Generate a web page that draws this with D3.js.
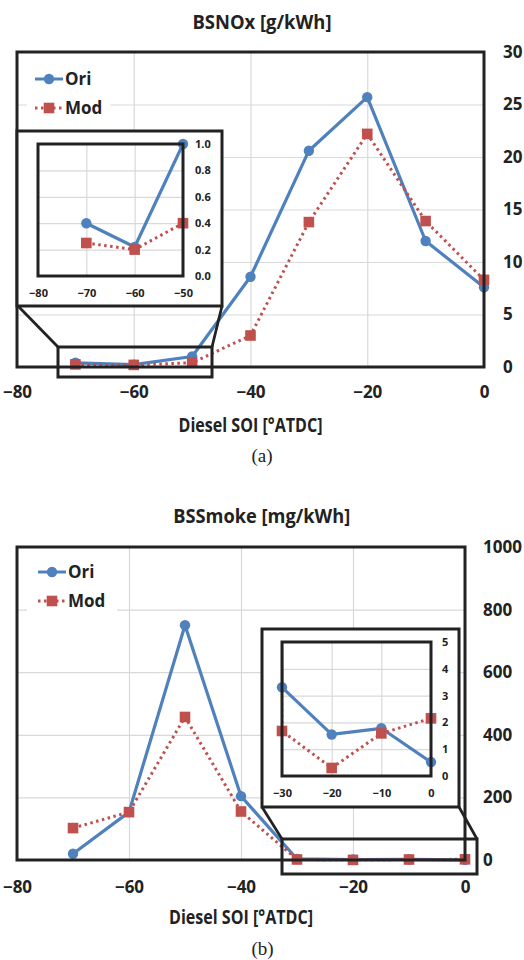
<!DOCTYPE html>
<html>
<head>
<meta charset="utf-8">
<script src="https://cdn.jsdelivr.net/npm/d3@7"></script>
<style>
  body { margin: 0; background: #fff; }
  text { font-family: "Open Sans", "Noto Sans", sans-serif; font-weight: bold; fill: #222; }
</style>
</head>
<body>
<svg id="chart" width="524" height="960"></svg>
<script>
// data
var soi = [-70, -60, -50, -40, -30, -20, -10, 0];
var noxOri = [0.4, 0.22, 1.0, 8.6, 20.6, 25.7, 12.0, 7.6];
var noxMod = [0.25, 0.2, 0.4, 3.0, 13.8, 22.2, 13.9, 8.3];
var smokeOri = [20, 153, 750, 204, 3.31, 1.55, 1.78, 0.52];
var smokeMod = [102, 153, 457, 155, 1.68, 0.3, 1.59, 2.15];

var xTicks = [-80, -60, -40, -20, 0];
var noxTicks = [0, 5, 10, 15, 20, 25, 30];
var smokeTicks = [0, 200, 400, 600, 800, 1000];
var noxInsetXTicks = [-80, -70, -60, -50];
var noxInsetYTicks = [0, 0.2, 0.4, 0.6, 0.8, 1.0];
var smokeInsetXTicks = [-30, -20, -10, 0];
var smokeInsetYTicks = [0, 1, 2, 3, 4, 5];

var seriesNames = ["Ori", "Mod"];
var blue = "#4f81bd", red = "#c0504d", frameCol = "#222";

var svg = d3.select("#chart");
var clipId = 0;

function drawSeries(g, x, y, ori, mod, clip) {
  var line = d3.line().x(function(d) { return x(d[0]); }).y(function(d) { return y(d[1]); });
  var gg = g.append("g");
  if (clip) {
    var id = "clip" + (clipId++);
    g.append("clipPath").attr("id", id).append("rect")
      .attr("x", x.range()[0]).attr("y", y.range()[1])
      .attr("width", x.range()[1] - x.range()[0]).attr("height", y.range()[0] - y.range()[1]);
    gg.attr("clip-path", "url(#" + id + ")");
  }
  var dOri = d3.zip(soi, ori), dMod = d3.zip(soi, mod);
  gg.append("path").datum(dOri).attr("d", line)
    .style("fill", "none").style("stroke", blue).style("stroke-width", 3.2).style("stroke-linejoin", "round");
  gg.append("path").datum(dMod).attr("d", line)
    .style("fill", "none").style("stroke", red).style("stroke-width", 3).style("stroke-dasharray", "2.5,3.5");

  var pts = g.append("g");
  var inDom = function(d) { return d[0] >= x.domain()[0] && d[0] <= x.domain()[1] && d[1] <= y.domain()[1]; };
  pts.selectAll("circle").data(dOri.filter(inDom)).enter().append("circle")
    .attr("cx", function(d) { return x(d[0]); }).attr("cy", function(d) { return y(d[1]); })
    .attr("r", 5.2).style("fill", blue);
  pts.selectAll("rect").data(dMod.filter(inDom)).enter().append("rect")
    .attr("x", function(d) { return x(d[0]) - 5.3; }).attr("y", function(d) { return y(d[1]) - 5.3; })
    .attr("width", 10.6).attr("height", 10.6).style("fill", red);
}

function drawGrid(g, x, y, xt, yt) {
  g.append("g").attr("transform", "translate(0," + y.range()[0] + ")")
    .call(d3.axisBottom(x).tickValues(xt).tickSize(y.range()[1] - y.range()[0]).tickFormat(""))
    .call(function(a) { a.select(".domain").remove(); a.selectAll("line").style("stroke", "#d9d9d9").style("stroke-width", 1.2); });
  g.append("g").attr("transform", "translate(" + x.range()[0] + ",0)")
    .call(d3.axisRight(y).tickValues(yt).tickSize(x.range()[1] - x.range()[0]).tickFormat(""))
    .call(function(a) { a.select(".domain").remove(); a.selectAll("line").style("stroke", "#d9d9d9").style("stroke-width", 1.2); });
}

function drawLabels(g, x, y, xt, yt, fs, xPad, yPad, yFmt) {
  g.append("g").attr("transform", "translate(0," + y.range()[0] + ")")
    .call(d3.axisBottom(x).tickValues(xt).tickSize(0).tickPadding(xPad))
    .call(function(a) { a.select(".domain").remove(); a.selectAll("text").style("font-size", fs + "px").attr("fill", null); });
  g.append("g").attr("transform", "translate(" + x.range()[1] + ",0)")
    .call(d3.axisRight(y).tickValues(yt).tickSize(0).tickPadding(yPad).tickFormat(yFmt || d3.format("d")))
    .call(function(a) { a.select(".domain").remove(); a.selectAll("text").style("font-size", fs + "px").attr("fill", null); });
}

function frame(g, x0, y0, x1, y1, w) {
  g.append("rect").attr("x", x0).attr("y", y0).attr("width", x1 - x0).attr("height", y1 - y0)
    .style("fill", "none").style("stroke", frameCol).style("stroke-width", w);
}

// tall, narrow text like the Calibri in the picture
function narrowText(g, x, y, fs, len, str) {
  return g.append("text").attr("x", x).attr("y", y).attr("text-anchor", "middle")
    .style("font-size", fs + "px").attr("textLength", len).attr("lengthAdjust", "spacingAndGlyphs").text(str);
}

function panel(p) {
  var g = svg.append("g");
  var x = d3.scaleLinear().domain([-80, 0]).range([p.x0, p.x1]);
  var y = d3.scaleLinear().domain([0, p.yMax]).range([p.y1, p.y0]);

  narrowText(g, p.titleX, p.titleY, 19.5, p.titleLen, p.title);

  drawGrid(g, x, y, xTicks, p.yTicks);
  drawLabels(g, x, y, xTicks, p.yTicks, 17, p.xPad, p.yPad);

  // legend
  var lg = g.append("g");
  lg.append("rect").attr("x", p.x0 + 10).attr("y", p.y0 + 2).attr("width", p.legW).attr("height", p.legH).style("fill", "#fff");
  seriesNames.forEach(function(name, i) {
    var ly = p.legY + i * 29;
    lg.append("line").attr("x1", p.legX).attr("x2", p.legX + 28).attr("y1", ly).attr("y2", ly)
      .style("stroke", i ? red : blue).style("stroke-width", 3).style("stroke-dasharray", i ? "2.5,3.5" : null);
    if (i) lg.append("rect").attr("x", p.legX + 14 - 5.3).attr("y", ly - 5.3).attr("width", 10.6).attr("height", 10.6).style("fill", red);
    else lg.append("circle").attr("cx", p.legX + 14).attr("cy", ly).attr("r", 5.2).style("fill", blue);
    lg.append("text").attr("x", p.legX + 30).attr("y", ly + 6).style("font-size", "17px").text(name);
  });

  drawSeries(g, x, y, p.ori, p.mod, false);
  frame(g, p.x0, p.y0, p.x1, p.y1, 3);

  narrowText(g, p.axisTitleX, p.axisTitleY, 19.5, 144, "Diesel SOI [°ATDC]");
  g.append("text").attr("x", p.capX).attr("y", p.capY).attr("text-anchor", "middle")
    .style("font-family", "'Liberation Serif', 'DejaVu Serif', serif").style("font-weight", "normal")
    .style("font-size", "19px").text(p.caption);

  // zoom box + connectors
  var ins = p.inset;
  g.append("rect").attr("x", ins.zx).attr("y", ins.zy).attr("width", ins.zw).attr("height", ins.zh)
    .style("fill", "none").style("stroke", frameCol).style("stroke-width", 3);
  ins.links.forEach(function(l) {
    g.append("line").attr("x1", l[0]).attr("y1", l[1]).attr("x2", l[2]).attr("y2", l[3])
      .style("stroke", frameCol).style("stroke-width", 2.8);
  });

  // inset
  var ig = g.append("g");
  ig.append("rect").attr("x", ins.ox).attr("y", ins.oy).attr("width", ins.ow).attr("height", ins.oh)
    .style("fill", "#fff").style("stroke", frameCol).style("stroke-width", 3);
  var ix = d3.scaleLinear().domain(ins.xDom).range([ins.x0, ins.x1]);
  var iy = d3.scaleLinear().domain(ins.yDom).range([ins.y1, ins.y0]);
  drawGrid(ig, ix, iy, ins.xTicks, ins.yTicks);
  drawLabels(ig, ix, iy, ins.xTicks, ins.yTicks, 11, ins.xPad, ins.yPad, ins.yFmt);
  drawSeries(ig, ix, iy, p.ori, p.mod, true);
  frame(ig, ins.x0, ins.y0, ins.x1, ins.y1, 3);
}

panel({
  title: "BSNOx [g/kWh]", titleX: 262, titleY: 29, titleLen: 139,
  x0: 17, x1: 484, y0: 52, y1: 367, yMax: 30, yTicks: noxTicks,
  xPad: 18.5, yPad: 19,
  legX: 35, legY: 79, legW: 83, legH: 77,
  ori: noxOri, mod: noxMod,
  axisTitleX: 250.5, axisTitleY: 432, capX: 262, capY: 462, caption: "(a)",
  inset: {
    ox: 17, oy: 131, ow: 205, oh: 175,
    x0: 38, x1: 183, y0: 144, y1: 276,
    xDom: [-80, -50], yDom: [0, 1], xTicks: noxInsetXTicks, yTicks: noxInsetYTicks,
    xPad: 13, yPad: 12, yFmt: d3.format(".1f"),
    zx: 58, zy: 347, zw: 154, zh: 30,
    links: [[18, 306, 58, 347], [222, 306, 212, 347]]
  }
});

panel({
  title: "BSSmoke [mg/kWh]", titleX: 261.7, titleY: 523, titleLen: 177,
  x0: 17, x1: 465, y0: 547, y1: 860, yMax: 1000, yTicks: smokeTicks,
  xPad: 20.5, yPad: 18,
  legX: 38, legY: 572, legW: 90, legH: 63,
  ori: smokeOri, mod: smokeMod,
  axisTitleX: 241, axisTitleY: 924, capX: 262.5, capY: 955, caption: "(b)",
  inset: {
    ox: 262, oy: 629, ow: 197, oh: 178,
    x0: 282, x1: 431, y0: 642, y1: 776,
    xDom: [-30, 0], yDom: [0, 5], xTicks: smokeInsetXTicks, yTicks: smokeInsetYTicks,
    xPad: 13, yPad: 11, yFmt: d3.format("d"),
    zx: 282, zy: 839, zw: 195, zh: 35,
    links: [[262, 807, 282, 839], [459, 807, 477, 839]]
  }
});
</script>
</body>
</html>
